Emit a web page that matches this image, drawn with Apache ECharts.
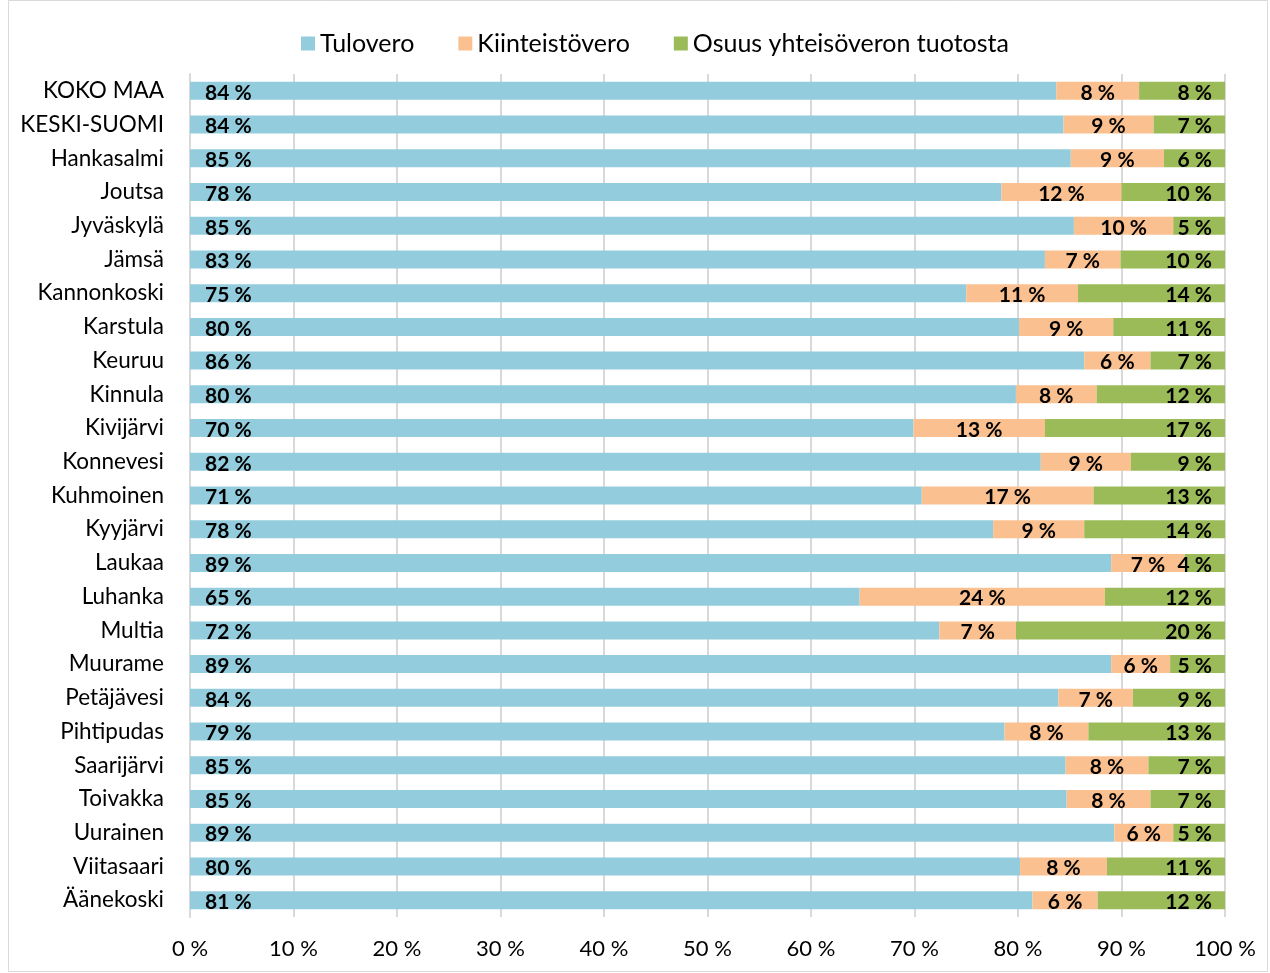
<!DOCTYPE html>
<html>
<head>
<meta charset="UTF-8">
<title>Verotulojen rakenne</title>
<script type="text/javascript" src="https://cdn.jsdelivr.net/npm/echarts@6/dist/echarts.min.js"></script>
<style>
html, body { margin: 0; padding: 0; background: #fff; }
#chart { width: 1270px; height: 973px; }
</style>
</head>
<body>
<div id="chart"></div>

<script type="text/javascript">

// kunnat ylhäältä alas
var kunnat = ['KOKO MAA', 'KESKI-SUOMI', 'Hankasalmi', 'Joutsa', 'Jyväskylä', 'Jämsä',
  'Kannonkoski', 'Karstula', 'Keuruu', 'Kinnula', 'Kivijärvi', 'Konnevesi', 'Kuhmoinen',
  'Kyyjärvi', 'Laukaa', 'Luhanka', 'Multia', 'Muurame', 'Petäjävesi', 'Pihtipudas',
  'Saarijärvi', 'Toivakka', 'Uurainen', 'Viitasaari', 'Äänekoski'];

// osuudet prosentteina
var tulovero = [83.7, 84.4, 85.1, 78.4, 85.4, 82.6, 75.0, 80.1, 86.4, 79.8, 69.9, 82.2, 70.7,
  77.6, 89.0, 64.7, 72.4, 89.0, 83.9, 78.7, 84.6, 84.7, 89.3, 80.2, 81.4];
var kiinteistovero = [8.0, 8.7, 9.0, 11.6, 9.6, 7.3, 10.8, 9.1, 6.4, 7.8, 12.7, 8.7, 16.6,
  8.8, 7.1, 23.7, 7.4, 5.7, 7.2, 8.1, 8.0, 8.1, 5.7, 8.4, 6.3];
var yhteisovero = [8.3, 6.9, 5.9, 10.0, 5.0, 10.1, 14.2, 10.8, 7.2, 12.4, 17.4, 9.1, 12.7,
  13.6, 3.9, 11.6, 20.2, 5.3, 8.9, 13.2, 7.4, 7.2, 5.0, 11.4, 12.3];

var sarjat = ['Tulovero', 'Kiinteistövero', 'Osuus yhteisöveron tuotosta'];
var xTicks = [0, 10, 20, 30, 40, 50, 60, 70, 80, 90, 100];

var fontti = 'Lato, "Open Sans", sans-serif';

var mychart = echarts.init(document.getElementById('chart'));

function pros(p) {
  return Math.round(p.value) + ' %';
}

var labelStyle = {
  show: true,
  color: '#000',
  fontWeight: 'bold',
  fontSize: 21,
  fontFamily: fontti,
  offset: [0, 2],
  formatter: pros
};

var option = {
  animation: false,
  color: ['#93CDDD', '#FAC090', '#9BBB59'],
  graphic: [{
    type: 'rect',
    shape: { x: 8.5, y: 0.5, width: 1259, height: 971 },
    style: { fill: 'none', stroke: '#d9d9d9', lineWidth: 1 }
  }],
  legend: {
    top: 26,
    left: 296,
    itemWidth: 14,
    itemHeight: 14,
    itemGap: 44,
    icon: 'rect',
    textStyle: { fontSize: 25, color: '#000', fontFamily: fontti },
    data: sarjat
  },
  grid: {
    left: 190,
    right: 45,
    top: 74,
    bottom: 56
  },
  xAxis: {
    type: 'value',
    min: 0,
    max: 100,
    interval: 10,
    axisLine: { show: false },
    axisTick: { show: false },
    splitLine: { lineStyle: { color: '#d9d9d9', width: 2 } },
    axisLabel: {
      margin: 21,
      fontSize: 22,
      color: '#000',
      fontFamily: fontti,
      formatter: function (v) { return xTicks.indexOf(v) >= 0 ? v + ' %' : ''; }
    }
  },
  yAxis: {
    type: 'category',
    inverse: true,
    data: kunnat,
    axisLine: { lineStyle: { color: '#d9d9d9', width: 2 } },
    axisTick: { show: false },
    axisLabel: {
      margin: 26,
      fontSize: 22.5,
      color: '#000',
      fontFamily: fontti
    }
  },
  series: [{
    name: sarjat[0],
    type: 'bar',
    stack: 'yht',
    barWidth: 18,
    data: tulovero,
    label: Object.assign({}, labelStyle, { position: 'insideLeft', distance: 15 })
  }, {
    name: sarjat[1],
    type: 'bar',
    stack: 'yht',
    barWidth: 18,
    data: kiinteistovero,
    label: Object.assign({}, labelStyle, { position: 'inside' })
  }, {
    name: sarjat[2],
    type: 'bar',
    stack: 'yht',
    barWidth: 18,
    data: yhteisovero,
    label: Object.assign({}, labelStyle, { position: 'insideRight', distance: 13 })
  }]
};

mychart.setOption(option);
</script>
</body>
</html>
